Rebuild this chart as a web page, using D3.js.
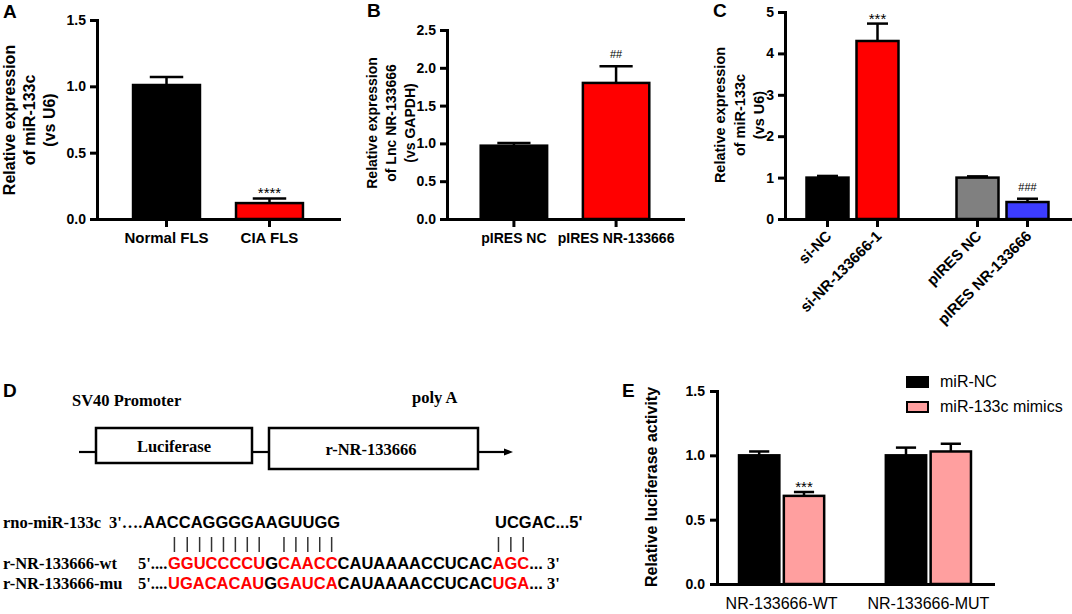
<!DOCTYPE html>
<html>
<head>
<meta charset="utf-8">
<script src="https://cdn.jsdelivr.net/npm/d3@7"></script>
<style>
  body { margin: 0; background: #fff; }
  svg { display: block; }
  text { font-family: "Liberation Sans", Arial, sans-serif; }
</style>
</head>
<body>
<svg width="1072" height="614"></svg>
<script>
// ---- Panel A: miR-133c in FLS ----
const groupsA = ["Normal FLS", "CIA FLS"];
const meansA = [1.01, 0.12];
const errorsA = [0.06, 0.035];
const marksA = ["", "****"];
const ticksA = [0, 0.5, 1.0, 1.5];

// ---- Panel B: NR-133666 overexpression ----
const groupsB = ["pIRES NC", "pIRES NR-133666"];
const meansB = [0.97, 1.80];
const errorsB = [0.035, 0.22];
const marksB = ["", "##"];
const ticksB = [0, 0.5, 1.0, 1.5, 2.0, 2.5];

// ---- Panel C: miR-133c after knockdown / overexpression ----
const groupsC = ["si-NC", "si-NR-133666-1", "pIRES NC", "pIRES NR-133666"];
const meansC = [1.0, 4.3, 1.0, 0.41];
const errorsC = [0.04, 0.42, 0.03, 0.08];
const marksC = ["", "***", "", "###"];
const ticksC = [0, 1, 2, 3, 4, 5];

// ---- Panel E: luciferase reporter ----
const groupsE = ["NR-133666-WT", "NR-133666-MUT"];
const seriesE = ["miR-NC", "miR-133c mimics"];
const meansNcE = [1.0, 1.0];
const errorsNcE = [0.03, 0.06];
const meansMimicE = [0.685, 1.03];
const errorsMimicE = [0.03, 0.06];
const marksNcE = ["", ""];
const marksMimicE = ["***", ""];
const ticksE = [0, 0.5, 1.0, 1.5];

// ---- Panel D: construct and binding site ----
const mirnaName = "rno-miR-133c";
const mirnaSeed = "AACCAGGGGAAGUUGG";
const mirnaTail = "UCGAC...5'";
const wtName = "r-NR-133666-wt";
const muName = "r-NR-133666-mu";
const wtSegments = [
  {s: "GGUCCCCU", site: true}, {s: "G", site: false}, {s: "CAACC", site: true},
  {s: "CAUAAAACCUCAC", site: false}, {s: "AGC", site: true}
];
const muSegments = [
  {s: "UGACACAU", site: true}, {s: "G", site: false}, {s: "GAUCA", site: true},
  {s: "CAUAAAACCUCAC", site: false}, {s: "UGA", site: true}
];

const RED = "#ff0000";
const svg = d3.select("svg");
const serif = "'Liberation Serif', 'Times New Roman', serif";
const sans = "'Liberation Sans', Arial, sans-serif";

function styleAxis(ax, fontSize, weight) {
  ax.select(".domain").attr("stroke-width", 3).attr("stroke-linecap", "square");
  ax.selectAll(".tick line").attr("stroke-width", 3);
  ax.selectAll(".tick text")
    .attr("fill", "#000")
    .style("font-family", sans)
    .style("font-size", fontSize + "px")
    .style("font-weight", weight);
}

function drawBars(parent, rows, xf, bw, y) {
  const g = parent.append("g");
  g.selectAll("rect").data(rows).join("rect")
    .attr("x", d => xf(d))
    .attr("y", d => y(d.m))
    .attr("width", bw)
    .attr("height", d => y(0) - y(d.m))
    .attr("fill", d => d.c)
    .attr("stroke", "#000")
    .attr("stroke-width", 2.5);
  g.selectAll("line.stem").data(rows).join("line")
    .attr("class", "stem")
    .attr("x1", d => xf(d) + bw / 2).attr("x2", d => xf(d) + bw / 2)
    .attr("y1", d => y(d.m)).attr("y2", d => y(d.m + d.e))
    .attr("stroke", "#000").attr("stroke-width", 2.5);
  g.selectAll("line.cap").data(rows).join("line")
    .attr("class", "cap")
    .attr("x1", d => xf(d) + bw / 4).attr("x2", d => xf(d) + bw * 3 / 4)
    .attr("y1", d => y(d.m + d.e)).attr("y2", d => y(d.m + d.e))
    .attr("stroke", "#000").attr("stroke-width", 2.5);
  // significance marks; hashes are set smaller and a bit higher
  g.selectAll("text").data(rows.filter(d => d.mark)).join("text")
    .attr("x", d => xf(d) + bw / 2)
    .attr("y", d => y(d.m + d.e) - (d.mark[0] === "#" ? 8 : 0))
    .attr("text-anchor", "middle")
    .style("font-size", d => d.mark[0] === "#" ? "11px" : "15px")
    .text(d => d.mark);
}

function yTitle(lines, x0, cy, size, gap) {
  const t = svg.append("g");
  lines.forEach((line, i) => {
    t.append("text")
      .attr("transform", `translate(${x0 + i * gap},${cy}) rotate(-90)`)
      .attr("text-anchor", "middle")
      .style("font-size", size + "px")
      .style("font-weight", "bold")
      .text(line);
  });
}

function panelLetter(letter, x, y) {
  svg.append("text").attr("x", x).attr("y", y)
    .style("font-size", "19px").style("font-weight", "bold")
    .text(letter);
}

function barPanel(cfg) {
  const g = svg.append("g");
  const x = d3.scaleBand().domain(cfg.slots).range(cfg.xRange)
    .paddingInner(cfg.padIn).paddingOuter(cfg.padOut);
  const y = d3.scaleLinear().domain(cfg.yDomain).range(cfg.yRange);
  const rows = cfg.groups.map((k, i) => ({
    k: k, m: cfg.means[i], e: cfg.errors[i], mark: cfg.marks[i], c: cfg.colors[i]
  }));
  drawBars(g, rows, d => x(d.k), x.bandwidth(), y);

  const yAx = g.append("g")
    .attr("transform", `translate(${cfg.xRange[0]},0)`)
    .call(d3.axisLeft(y).tickValues(cfg.ticks).tickFormat(cfg.fmt)
      .tickSize(7).tickSizeOuter(0).tickPadding(4));
  styleAxis(yAx, 14, "bold");

  const xAx = g.append("g")
    .attr("transform", `translate(0,${cfg.yRange[0]})`)
    .call(d3.axisBottom(x).tickValues(cfg.groups)
      .tickSize(8).tickSizeOuter(0).tickPadding(cfg.xPad));
  styleAxis(xAx, cfg.xFont, "bold");
  return {g: g, x: x, y: y, xAx: xAx};
}

// ---------- A ----------
panelLetter("A", 3, 18);
barPanel({
  slots: groupsA, groups: groupsA, means: meansA, errors: errorsA, marks: marksA,
  colors: ["#000", RED], ticks: ticksA, fmt: d3.format(".1f"),
  xRange: [97, 339], padIn: 0.35, padOut: 0.35,
  yDomain: [0, 1.5], yRange: [219, 20], xFont: 15, xPad: 5
});
yTitle(["Relative expression", "of miR-133c", "(vs U6)"], 15, 120, 16, 20);

// ---------- B ----------
panelLetter("B", 367, 17);
barPanel({
  slots: groupsB, groups: groupsB, means: meansB, errors: errorsB, marks: marksB,
  colors: ["#000", RED], ticks: ticksB, fmt: d3.format(".1f"),
  xRange: [447, 683], padIn: 0.35, padOut: 0.33,
  yDomain: [0, 2.5], yRange: [219, 30], xFont: 14, xPad: 6
});
yTitle(["Relative expression", "of Lnc NR-133666", "(vs GAPDH)"], 377, 123, 14, 19);

// ---------- C ----------
panelLetter("C", 713, 17);
const slotsC = [groupsC[0], groupsC[1], "", groupsC[2], groupsC[3]];
const panelC = barPanel({
  slots: slotsC, groups: groupsC, means: meansC, errors: errorsC, marks: marksC,
  colors: ["#000", RED, "#808080", "#3c3cff"], ticks: ticksC, fmt: d3.format("d"),
  xRange: [785, 1070], padIn: 0.16, padOut: 0.43,
  yDomain: [0, 5], yRange: [219, 12], xFont: 15, xPad: 4
});
panelC.xAx.selectAll(".tick text")
  .attr("x", 0).attr("y", 0).attr("dy", 0)
  .attr("transform", "translate(5,18) rotate(-45)")
  .attr("text-anchor", "end");
yTitle(["Relative expression", "of miR-133c", "(vs U6)"], 725, 115, 14.5, 19.5);

// ---------- E ----------
panelLetter("E", 622, 397);
(function () {
  const g = svg.append("g");
  const x0 = d3.scaleBand().domain(groupsE).range([717, 993])
    .paddingInner(0.42).paddingOuter(0.15);
  const x1 = d3.scaleBand().domain(seriesE).range([0, x0.bandwidth()])
    .paddingInner(0.1);
  const y = d3.scaleLinear().domain([0, 1.5]).range([584, 391]);
  const colorE = d3.scaleOrdinal().domain(seriesE).range(["#000", "#ff9f9f"]);

  const seriesData = [
    {name: seriesE[0], means: meansNcE, errors: errorsNcE, marks: marksNcE},
    {name: seriesE[1], means: meansMimicE, errors: errorsMimicE, marks: marksMimicE}
  ];
  seriesData.forEach(s => {
    const rows = groupsE.map((k, i) => ({
      k: k, m: s.means[i], e: s.errors[i], mark: s.marks[i], c: colorE(s.name)
    }));
    drawBars(g, rows, d => x0(d.k) + x1(s.name), x1.bandwidth(), y);
  });

  const yAx = g.append("g").attr("transform", "translate(717,0)")
    .call(d3.axisLeft(y).tickValues(ticksE).tickFormat(d3.format(".1f"))
      .tickSize(7).tickSizeOuter(0).tickPadding(5));
  styleAxis(yAx, 14, "bold");
  const xAx = g.append("g").attr("transform", "translate(0,584)")
    .call(d3.axisBottom(x0).tickSize(0).tickSizeOuter(0).tickPadding(14));
  styleAxis(xAx, 16, "normal");

  // legend
  const lg = g.append("g");
  const item = lg.selectAll("g").data(seriesE).join("g")
    .attr("transform", (d, i) => `translate(907,${377 + i * 25})`);
  item.append("rect").attr("width", 21).attr("height", 10)
    .attr("fill", d => colorE(d)).attr("stroke", "#000").attr("stroke-width", 2);
  item.append("text").attr("x", 33).attr("y", 10)
    .style("font-size", "16px").text(d => d);
})();
yTitle(["Relative luciferase activity"], 657, 487, 16, 0);

// ---------- D ----------
panelLetter("D", 3, 397);
(function () {
  const g = svg.append("g");
  const fs = "16.5px";
  function line(x1, y1, x2, y2) {
    g.append("line").attr("x1", x1).attr("y1", y1).attr("x2", x2).attr("y2", y2)
      .attr("stroke", "#000").attr("stroke-width", 2.2);
  }
  function serifText(x, y, s, anchor) {
    return g.append("text").attr("x", x).attr("y", y)
      .attr("text-anchor", anchor || "start")
      .style("font-family", serif).style("font-weight", "bold").style("font-size", fs)
      .text(s);
  }
  function sansText(x, y, s) {
    return g.append("text").attr("x", x).attr("y", y)
      .style("font-family", sans).style("font-weight", "bold").style("font-size", fs)
      .text(s);
  }
  serifText(72, 406, "SV40 Promoter");
  serifText(412, 403, "poly A");

  line(79, 452, 96, 452);
  g.append("rect").attr("x", 96).attr("y", 428).attr("width", 156).attr("height", 35)
    .attr("fill", "none").attr("stroke", "#000").attr("stroke-width", 2.5);
  line(252, 452, 269, 452);
  g.append("rect").attr("x", 269).attr("y", 428).attr("width", 209).attr("height", 41)
    .attr("fill", "none").attr("stroke", "#000").attr("stroke-width", 2.5);
  line(478, 452, 506, 452);
  g.append("path").attr("d", "M504,448.5 L513,452 L504,455.5 Z").attr("fill", "#000");
  serifText(174, 452, "Luciferase", "middle");
  serifText(371, 455, "r-NR-133666", "middle");

  // miRNA row
  serifText(3, 528, mirnaName);
  serifText(109, 528, "3'\u2026.");
  sansText(143, 528, mirnaSeed);
  sansText(495, 528, mirnaTail);

  function seqRow(name, segs, y) {
    serifText(3, y, name);
    serifText(138, y, "5'....");
    const t = sansText(168, y, "");
    segs.forEach(sg => {
      t.append("tspan").attr("fill", sg.site ? RED : "#000").text(sg.s);
    });
    t.append("tspan").attr("fill", "#000").text("...");
    t.append("tspan").attr("fill", "#000")
      .style("font-family", serif).text(" 3'");
    return t;
  }
  const wt = seqRow(wtName, wtSegments, 569);
  seqRow(muName, muSegments, 589);

  // pairing ticks above every seed-site base of the wild-type row
  const siteIdx = [];
  let pos = 0;
  wtSegments.forEach(sg => {
    for (let i = 0; i < sg.s.length; i++) {
      if (sg.site) siteIdx.push(pos + i);
    }
    pos += sg.s.length;
  });
  const node = wt.node();
  const cx = siteIdx.map(i => {
    const e = node.getExtentOfChar(i);
    return e.x + e.width / 2;
  });
  g.selectAll("line.pair").data(cx).join("line")
    .attr("class", "pair")
    .attr("x1", d => d).attr("x2", d => d)
    .attr("y1", 537).attr("y2", 552)
    .attr("stroke", "#333").attr("stroke-width", 1.5);
})();
</script>
</body>
</html>
